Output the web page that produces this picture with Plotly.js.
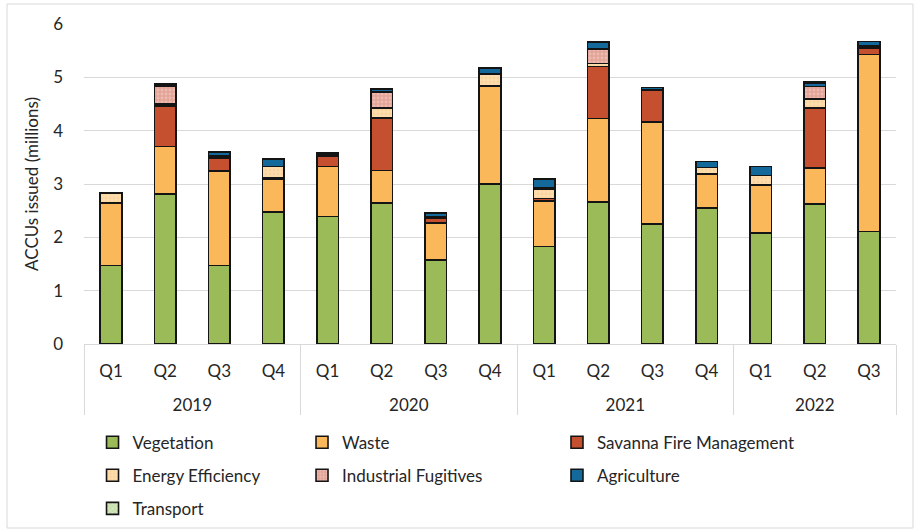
<!DOCTYPE html>
<html>
<head>
<meta charset="utf-8">
<script src="https://cdn.plot.ly/plotly-3.0.1.min.js"></script>
<style>html,body{margin:0;padding:0;background:#fff;}#chart{width:920px;height:532px;}</style>
</head>
<body>
<div id="chart"></div>
<script>
// Categories
const years    = ["2019","2019","2019","2019","2020","2020","2020","2020","2021","2021","2021","2021","2022","2022","2022"];
const quarters = ["Q1","Q2","Q3","Q4","Q1","Q2","Q3","Q4","Q1","Q2","Q3","Q4","Q1","Q2","Q3"];

// ACCUs issued (millions), by method type
const vegetation        = [1.47, 2.81, 1.47, 2.48, 2.39, 2.64, 1.58, 3.00, 1.83, 2.66, 2.25, 2.55, 2.08, 2.63, 2.11];
const waste             = [1.17, 0.89, 1.77, 0.61, 0.94, 0.61, 0.69, 1.83, 0.85, 1.57, 1.91, 0.64, 0.89, 0.67, 3.32];
const savanna           = [0.01, 0.76, 0.24, 0.03, 0.19, 0.99, 0.09, 0.02, 0.05, 0.97, 0.59, 0.01, 0.02, 1.12, 0.12];
const energyEfficiency  = [0.18, 0.04, 0.02, 0.21, 0.01, 0.18, 0.02, 0.21, 0.18, 0.06, 0.01, 0.11, 0.17, 0.17, 0.02];
const industrialFug     = [0.00, 0.33, 0.02, 0.00, 0.02, 0.31, 0.01, 0.00, 0.01, 0.27, 0.01, 0.00, 0.00, 0.24, 0.02];
const agriculture       = [0.01, 0.03, 0.08, 0.14, 0.03, 0.04, 0.07, 0.11, 0.17, 0.13, 0.04, 0.11, 0.17, 0.06, 0.08];
const transport         = [0.00, 0.01, 0.00, 0.00, 0.00, 0.01, 0.00, 0.00, 0.00, 0.01, 0.00, 0.00, 0.00, 0.02, 0.00];

const seriesNames = ["Vegetation","Waste","Savanna Fire Management","Energy Efficiency","Industrial Fugitives","Agriculture","Transport"];
const seriesData  = [vegetation, waste, savanna, energyEfficiency, industrialFug, agriculture, transport];
const colors      = ["#9BBB59","#FAB85A","#C4502F","#FDDCAE","#E3A397","#12699A","#C5DDA8"];
const patterns    = ["","","","." ,".","","x"];
const patFg       = ["","","","#F6C98A","#F3D3CC","","#FFFFFF"];
const legendOf    = ["legend","legend2","legend3","legend","legend2","legend3","legend"];

// year labels pushed down one line (display only)
const yearLabels = years.map(y => "<br>" + y);

const traces = seriesNames.map((name, i) => {
  const t = {
    type: "bar",
    name: name,
    x: [yearLabels, quarters],
    y: seriesData[i],
    legend: legendOf[i],
    legendgroup: name,
    marker: {
      color: colors[i],
      line: {color: "#141414", width: 1.6}
    },
    hoverinfo: "name+y"
  };
  if (patterns[i]) {
    t.marker.pattern = {shape: patterns[i], fgcolor: patFg[i], bgcolor: colors[i], size: 4, solidity: 0.4, fillmode: "overlay"};
  }
  return t;
});

const FONT = "Lato, 'Open Sans', sans-serif";
const TXT = "#262626";
const legendCommon = {
  orientation: "v",
  traceorder: "grouped",
  tracegroupgap: 8,
  font: {family: FONT, size: 17, color: TXT},
  bgcolor: "rgba(0,0,0,0)",
  xanchor: "left",
  yanchor: "top",
  itemclick: false,
  itemdoubleclick: false
};

const layout = {
  width: 920,
  height: 532,
  margin: {l: 84, r: 24, t: 24, b: 188, autoexpand: false},
  paper_bgcolor: "#FFFFFF",
  plot_bgcolor: "#FFFFFF",
  barmode: "stack",
  bargap: 0.6,
  font: {family: FONT, size: 17, color: TXT},
  xaxis: {
    type: "multicategory",
    showline: true,
    linecolor: "#D9D9D9",
    linewidth: 1,
    showgrid: false,
    ticks: "",
    ticklabelstandoff: 12,
    showdividers: true,
    dividercolor: "#D9D9D9",
    dividerwidth: 1,
    tickfont: {family: FONT, size: 17, color: TXT}
  },
  yaxis: {
    range: [0, 6],
    dtick: 1,
    showgrid: true,
    gridcolor: "#D9D9D9",
    gridwidth: 1,
    zeroline: false,
    showline: false,
    ticks: "",
    ticklabelstandoff: 20,
    tickfont: {family: FONT, size: 17, color: TXT},
    title: {text: "ACCUs issued (millions)", font: {family: FONT, size: 17, color: TXT}, standoff: 10}
  },
  legend:  Object.assign({}, legendCommon, {x: 0.0105, y: -0.252}),
  legend2: Object.assign({}, legendCommon, {x: 0.2685, y: -0.252}),
  legend3: Object.assign({}, legendCommon, {x: 0.5825, y: -0.252}),
  shapes: [{
    type: "rect", xref: "paper", yref: "paper",
    x0: -0.0948, x1: 1.0209, y0: -0.575, y1: 1.0625,
    line: {color: "#D9D9D9", width: 1}, fillcolor: "rgba(0,0,0,0)", layer: "below"
  }],
  showlegend: true
};

Plotly.newPlot("chart", traces, layout, {displayModeBar: false, staticPlot: true});
</script>
</body>
</html>
